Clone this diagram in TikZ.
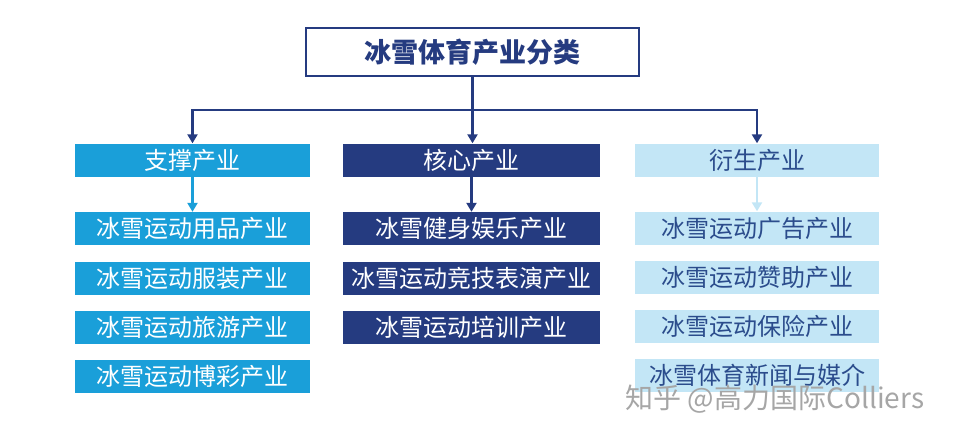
\documentclass[tikz,border=0pt]{standalone}
\usepackage{fontspec}
\setmainfont{Noto Sans CJK SC}
\usetikzlibrary{arrows.meta}
\definecolor{cyanb}{HTML}{1A9FD9}
\definecolor{navy}{HTML}{253B80}
\definecolor{lightb}{HTML}{C3E6F6}
\definecolor{ltext}{HTML}{2B4C8C}
\begin{document}
\begin{tikzpicture}[x=1pt,y=-1pt,
 box/.style={minimum height=33pt,inner sep=0pt,font=\fontsize{24}{24}\selectfont},
 lbox/.style={box,fill=cyanb,text=white,minimum width=235pt},
 mbox/.style={box,fill=navy,text=white,minimum width=257pt},
 rbox/.style={box,fill=lightb,text=ltext,minimum width=244pt},
 arr/.style={line width=2.2pt,-{Triangle[length=9pt,width=10pt]}}]
\useasboundingbox (0,0) rectangle (956,434);
\node[draw=navy,line width=2.5pt,fill=white,minimum width=333pt,minimum height=48pt,text=navy,font=\fontsize{27}{27}\selectfont\bfseries] (top) at (472.5,52) {冰雪体育产业分类};
\node[lbox] (L) at (192.5,160) {支撑产业};
\node[mbox] (M) at (471.5,160) {核心产业};
\node[rbox] (R) at (757,160) {衍生产业};
\node[lbox] (L1) at (192.5,228.5) {冰雪运动用品产业};
\node[lbox] (L2) at (192.5,278) {冰雪运动服装产业};
\node[lbox] (L3) at (192.5,327) {冰雪运动旅游产业};
\node[lbox] (L4) at (192.5,376) {冰雪运动博彩产业};
\node[mbox] (M1) at (471.5,228.5) {冰雪健身娱乐产业};
\node[mbox] (M2) at (471.5,278) {冰雪运动竞技表演产业};
\node[mbox] (M3) at (471.5,327) {冰雪运动培训产业};
\node[rbox] (R1) at (757,228) {冰雪运动广告产业};
\node[rbox] (R2) at (757,277) {冰雪运动赞助产业};
\node[rbox] (R3) at (757,326) {冰雪运动保险产业};
\node[rbox] (R4) at (757,375.5) {冰雪体育新闻与媒介};
\coordinate (j) at (472.5,110);
\draw[navy,line width=2.2pt] (top.south) -- (j);
\draw[arr,navy] (j) -| (L.north);
\draw[arr,navy] (j) -- (j|-M.north);
\draw[arr,navy] (j) -| (R.north);
\draw[arr,cyanb] (L.south) -- (L1.north);
\draw[arr,navy] (M.south) -- (M1.north-|M.south);
\draw[arr,lightb] (R.south) -- (R1.north);
\node[text=gray!70,font=\fontsize{28}{28}\selectfont,anchor=west] (wm) at (622,399) {知乎 @高力国际Colliers};
\end{tikzpicture}
\end{document}
